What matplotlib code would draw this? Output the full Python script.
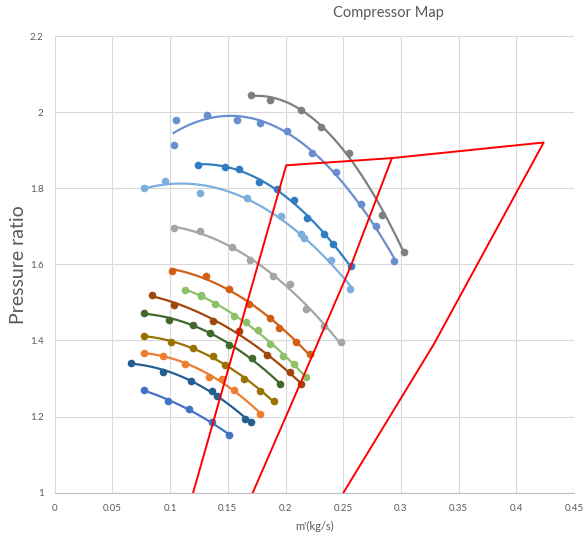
import numpy as np
import matplotlib
matplotlib.use("Agg")
import matplotlib.pyplot as plt

plt.rcParams["font.family"] = ["Lato", "DejaVu Sans"]

# speed lines, bottom to top: (mass flow, pressure ratio)
x_s1 = [0.077, 0.098, 0.116, 0.136, 0.151]
y_s1 = [1.270, 1.241, 1.220, 1.185, 1.152]
x_s2 = [0.066, 0.094, 0.118, 0.136, 0.141, 0.165, 0.170]
y_s2 = [1.341, 1.318, 1.294, 1.266, 1.255, 1.193, 1.185]
x_s3 = [0.077, 0.094, 0.113, 0.134, 0.145, 0.155, 0.178]
y_s3 = [1.368, 1.359, 1.337, 1.305, 1.298, 1.269, 1.207]
x_s4 = [0.077, 0.101, 0.120, 0.137, 0.148, 0.164, 0.178, 0.190]
y_s4 = [1.412, 1.395, 1.381, 1.359, 1.335, 1.298, 1.268, 1.241]
x_s5 = [0.077, 0.099, 0.120, 0.135, 0.151, 0.171, 0.195]
y_s5 = [1.473, 1.454, 1.442, 1.420, 1.389, 1.353, 1.286]
x_s6 = [0.084, 0.1035, 0.137, 0.160, 0.184, 0.2035, 0.213]
y_s6 = [1.521, 1.494, 1.451, 1.424, 1.361, 1.317, 1.286]
x_s7 = [0.113, 0.127, 0.127, 0.139, 0.155, 0.166, 0.1765, 0.187, 0.198, 0.207, 0.218]
y_s7 = [1.533, 1.521, 1.516, 1.495, 1.465, 1.449, 1.427, 1.391, 1.358, 1.338, 1.305]
x_s8 = [0.1014, 0.131, 0.1514, 0.168, 0.1867, 0.1945, 0.209, 0.221]
y_s8 = [1.584, 1.569, 1.535, 1.495, 1.460, 1.434, 1.397, 1.365]
x_s9 = [0.1035, 0.126, 0.154, 0.169, 0.189, 0.204, 0.218, 0.2335, 0.248]
y_s9 = [1.696, 1.687, 1.647, 1.611, 1.570, 1.549, 1.482, 1.439, 1.395]
x_s10 = [0.077, 0.0957, 0.126, 0.167, 0.196, 0.213, 0.216, 0.239, 0.256]
y_s10 = [1.801, 1.820, 1.789, 1.775, 1.728, 1.680, 1.669, 1.612, 1.535]
x_s11 = [0.1246, 0.148, 0.160, 0.177, 0.193, 0.207, 0.2185, 0.2335, 0.241, 0.2566]
y_s11 = [1.863, 1.857, 1.852, 1.816, 1.798, 1.770, 1.723, 1.681, 1.653, 1.596]
x_s12 = [0.103, 0.105, 0.132, 0.158, 0.178, 0.201, 0.223, 0.2435, 0.265, 0.278, 0.294]
y_s12 = [1.915, 1.981, 1.993, 1.980, 1.973, 1.951, 1.893, 1.843, 1.760, 1.701, 1.610]
x_s13 = [0.170, 0.187, 0.2135, 0.231, 0.255, 0.284, 0.303]
y_s13 = [2.047, 2.034, 2.007, 1.963, 1.894, 1.730, 1.634]

colors = ["#4472C4", "#255E91", "#ED7D31", "#997300", "#43682B", "#9E480E",
          "#8CC168", "#D26012", "#A5A5A5", "#7CAFDD", "#327DC2", "#698ED0", "#7F7F7F"]

# operating envelope lines
x_env = [0.120, 0.2006, 0.2922, 0.4237, 0.3283, 0.2503]
y_env = [1.000, 1.861, 1.880, 1.921, 1.389, 1.000]
x_env2 = [0.1717, 0.2127, 0.2566, 0.2922]
y_env2 = [1.000, 1.286, 1.596, 1.880]

series = [(x_s1, y_s1), (x_s2, y_s2), (x_s3, y_s3), (x_s4, y_s4), (x_s5, y_s5),
          (x_s6, y_s6), (x_s7, y_s7), (x_s8, y_s8), (x_s9, y_s9), (x_s10, y_s10),
          (x_s11, y_s11), (x_s12, y_s12), (x_s13, y_s13)]

fig = plt.figure(figsize=(5.83, 5.34), dpi=100)
ax = fig.add_axes([0.0938, 0.0777, 0.8908, 0.854])

for (xs, ys), c in zip(series, colors):
    xs = np.array(xs)
    ys = np.array(ys)
    # polynomial trendline like the spreadsheet
    coef = np.polyfit(xs, ys, 2)
    xf = np.linspace(xs.min(), xs.max(), 100)
    ax.plot(xf, np.polyval(coef, xf), color=c, lw=1.6, zorder=3)
    ax.plot(xs, ys, "o", color=c, ms=4.5, zorder=4)

ax.plot(x_env, y_env, color="#FF0000", lw=1.4, zorder=5)
ax.plot(x_env2, y_env2, color="#FF0000", lw=1.4, zorder=5)

ax.set_xlim(0, 0.45)
ax.set_ylim(1, 2.2)
ax.set_xticks(np.arange(0, 0.451, 0.05))
ax.set_xticklabels(["0", "0.05", "0.1", "0.15", "0.2", "0.25", "0.3", "0.35", "0.4", "0.45"])
ax.set_yticks(np.arange(1, 2.21, 0.2))
ax.set_yticklabels(["1", "1.2", "1.4", "1.6", "1.8", "2", "2.2"])
ax.grid(True, color="#D9D9D9", lw=0.8, zorder=0)
ax.set_axisbelow(True)
for s in ["top", "right", "left"]:
    ax.spines[s].set_visible(False)
ax.spines["bottom"].set_color("#BFBFBF")
ax.tick_params(length=0, labelsize=7, labelcolor="#595959", pad=8)

ax.set_xlabel("m'(kg/s)", fontsize=8, color="#595959", labelpad=6)
ax.set_ylabel("Pressure ratio", fontsize=14, color="#595959", labelpad=2)
fig.text(388 / 583, 1 - 13 / 534, "Compressor Map", fontsize=10.5, color="#595959",
         ha="center", va="center")

fig.savefig("out.png", dpi=100)
